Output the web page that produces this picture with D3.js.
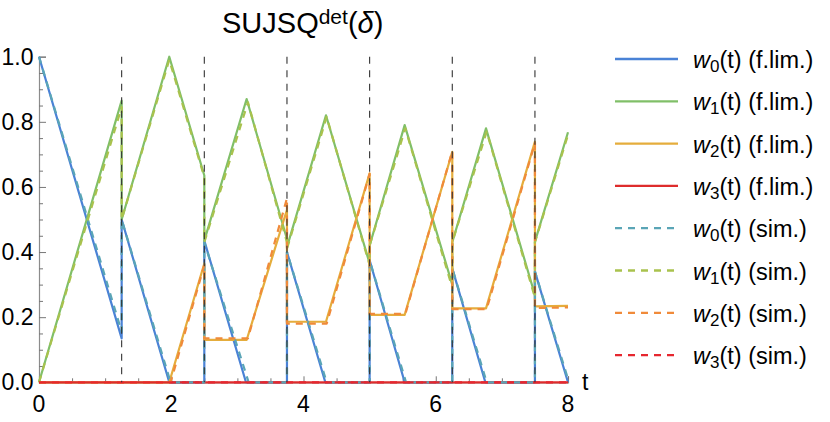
<!DOCTYPE html>
<html><head><meta charset="utf-8">
<script src="https://cdn.jsdelivr.net/npm/d3@7"></script>
<style>body{margin:0;background:#fff}svg{display:block;font-family:"Liberation Sans",Arial,sans-serif}</style>
</head><body>
<svg id="c" width="830" height="422"></svg>
<script>
// ---- data (t, value) breakpoints ----
const switchTimes = [1.25, 2.5, 3.75, 5, 6.25, 7.5];
const xTicksMajor = [0, 2, 4, 6, 8];
const yTicksMajor = [0, 0.2, 0.4, 0.6, 0.8, 1.0];

const w0Lim = [[0,1],[1.25,0.135],[1.25,0.5],[1.97,0],[2.5,0],[2.5,0.435],[3.13,0],[3.75,0],[3.75,0.40],[4.33,0],[5,0],[5,0.375],[5.53,0],[6.25,0],[6.25,0.35],[6.75,0],[7.5,0],[7.5,0.34],[8,0]];
const w1Lim = [[0,0],[1.25,0.865],[1.25,0.5],[1.97,1.0],[2.5,0.635],[2.5,0.435],[3.14,0.87],[3.75,0.44],[3.75,0.415],[4.34,0.82],[5,0.365],[5,0.42],[5.53,0.79],[6.25,0.30],[6.25,0.43],[6.76,0.78],[7.5,0.268],[7.5,0.432],[8,0.768]];
const w2Lim = [[0,0],[1.97,0],[2.5,0.365],[2.5,0.13],[3.14,0.13],[3.75,0.53],[3.75,0.186],[4.34,0.186],[5,0.642],[5,0.207],[5.53,0.207],[6.25,0.708],[6.25,0.227],[6.76,0.227],[7.5,0.739],[7.5,0.233],[8,0.235]];
const w3Lim = [[0,0],[8,0]];

const w0Sim = [[0,1],[1.25,0.155],[1.25,0.5],[1.99,0],[2.5,0],[2.5,0.43],[3.17,0],[3.75,0],[3.75,0.40],[4.35,0],[5,0],[5,0.375],[5.55,0],[6.25,0],[6.25,0.35],[6.77,0],[7.5,0],[7.5,0.34],[8,0.01]];
const w1Sim = [[0,0],[1.25,0.845],[1.25,0.5],[1.97,0.99],[2.5,0.63],[2.5,0.43],[3.16,0.86],[3.75,0.43],[3.75,0.41],[4.35,0.815],[5,0.36],[5,0.42],[5.54,0.78],[6.25,0.29],[6.25,0.43],[6.77,0.77],[7.5,0.26],[7.5,0.43],[8,0.76]];
const w2Sim = [[0,0],[1.99,0],[2.5,0.36],[2.5,0.135],[3.16,0.135],[3.75,0.565],[3.75,0.18],[4.35,0.18],[5,0.64],[5,0.21],[5.54,0.21],[6.25,0.71],[6.25,0.225],[6.77,0.225],[7.5,0.735],[7.5,0.228],[8,0.23]];
const w3Sim = [[0,0],[8,0]];

const seriesNames = ["w0 (f.lim.)","w1 (f.lim.)","w2 (f.lim.)","w3 (f.lim.)","w0 (sim.)","w1 (sim.)","w2 (sim.)","w3 (sim.)"];
const legendSub = ["0","1","2","3","0","1","2","3"];
const legendSuffix = ["(f.lim.)","(f.lim.)","(f.lim.)","(f.lim.)","(sim.)","(sim.)","(sim.)","(sim.)"];
const colors = ["#4a82d6","#80bf68","#e5ad3c","#de2c2c","#5aa5b6","#a9c24d","#f08a3a","#e6272f"];

const seriesData = [w0Lim,w1Lim,w2Lim,w3Lim,w0Sim,w1Sim,w2Sim,w3Sim];
const dashed = [false,false,false,false,true,true,true,true];

// ---- layout ----
const svg = d3.select("#c");
const x = d3.scaleLinear().domain([0,8]).range([39,568]);
const y = d3.scaleLinear().domain([0,1]).range([382.3,56.7]);

// axes
const axisColor = "#8c8c8c";
const xMinor = d3.range(0, 8.01, 0.5).filter(v => !xTicksMajor.includes(v));
const yMinor = d3.range(0, 1.001, 0.05).map(v => +v.toFixed(2)).filter(v => !yTicksMajor.some(m => Math.abs(m - v) < 1e-6));

const gx = svg.append("g").attr("transform", `translate(0,${y(0)})`);
gx.call(d3.axisTop(x).tickValues(xTicksMajor).tickSize(6).tickFormat(""));
const gx2 = svg.append("g").attr("transform", `translate(0,${y(0)})`);
gx2.call(d3.axisTop(x).tickValues(xMinor).tickSize(4).tickFormat(""));
gx2.select(".domain").remove();

const gy = svg.append("g").attr("transform", `translate(${x(0)},0)`);
gy.call(d3.axisRight(y).tickValues(yTicksMajor).tickSize(7).tickFormat(""));
const gy2 = svg.append("g").attr("transform", `translate(${x(0)},0)`);
gy2.call(d3.axisRight(y).tickValues(yMinor).tickSize(4).tickFormat(""));
gy2.select(".domain").remove();

svg.selectAll(".domain").attr("stroke", axisColor).attr("stroke-width", 1.2);
svg.selectAll(".tick line").attr("stroke", "#777").attr("stroke-width", 1);

// tick labels
svg.append("g").selectAll("text").data(xTicksMajor).join("text")
  .attr("x", d => x(d)).attr("y", 412).attr("text-anchor", "middle")
  .attr("font-size", 23).attr("fill", "#000").text(d => d3.format("d")(d));
svg.append("g").selectAll("text").data(yTicksMajor).join("text")
  .attr("x", 33.5).attr("y", d => y(d) + 8).attr("text-anchor", "end")
  .attr("font-size", 23).attr("fill", "#000").text(d => d3.format(".1f")(d));
svg.append("text").attr("x", 582).attr("y", 390).attr("font-size", 23).text("t");

// lines
const line = d3.line().x(d => x(d[0])).y(d => y(d[1]));
svg.append("g").selectAll("path").data(seriesData).join("path")
  .attr("d", d => line(d)).attr("fill", "none")
  .attr("stroke", (d,i) => colors[i]).attr("stroke-width", 2.2)
  .attr("stroke-dasharray", (d,i) => dashed[i] ? "7,6" : null)
  .attr("stroke-linejoin", "round");

// switching-time dashed verticals
svg.append("g").selectAll("line").data(switchTimes).join("line")
  .attr("x1", d => x(d)).attr("x2", d => x(d))
  .attr("y1", y(1)).attr("y2", y(0))
  .attr("stroke", "#333").attr("stroke-width", 1.1).attr("stroke-dasharray", "7,6.5");

// title
const title = svg.append("text").attr("x", 222).attr("y", 33).attr("font-size", 29);
title.append("tspan").text("SUJSQ");
title.append("tspan").attr("font-size", 21).attr("dy", -9).text("det");
title.append("tspan").attr("dy", 9).text("(");
title.append("tspan").attr("font-style", "italic").text("δ");
title.append("tspan").text(")");

// legend
const lg = svg.append("g").selectAll("g").data(seriesNames).join("g")
  .attr("transform", (d,i) => `translate(0,${59 + i*42.3})`);
lg.append("line").attr("x1", 615).attr("x2", 678).attr("y1", 0).attr("y2", 0)
  .attr("stroke", (d,i) => colors[i]).attr("stroke-width", 2.3)
  .attr("stroke-dasharray", (d,i) => dashed[i] ? "7,6" : null);
const lt = lg.append("text").attr("x", 693).attr("y", 9).attr("font-size", 23.5);
lt.append("tspan").attr("font-style", "italic").text("w");
lt.append("tspan").attr("font-size", 17).attr("dy", 4).text((d,i) => legendSub[i]);
lt.append("tspan").attr("dy", -4).text((d,i) => "(t) " + legendSuffix[i]);
</script>
</body></html>
